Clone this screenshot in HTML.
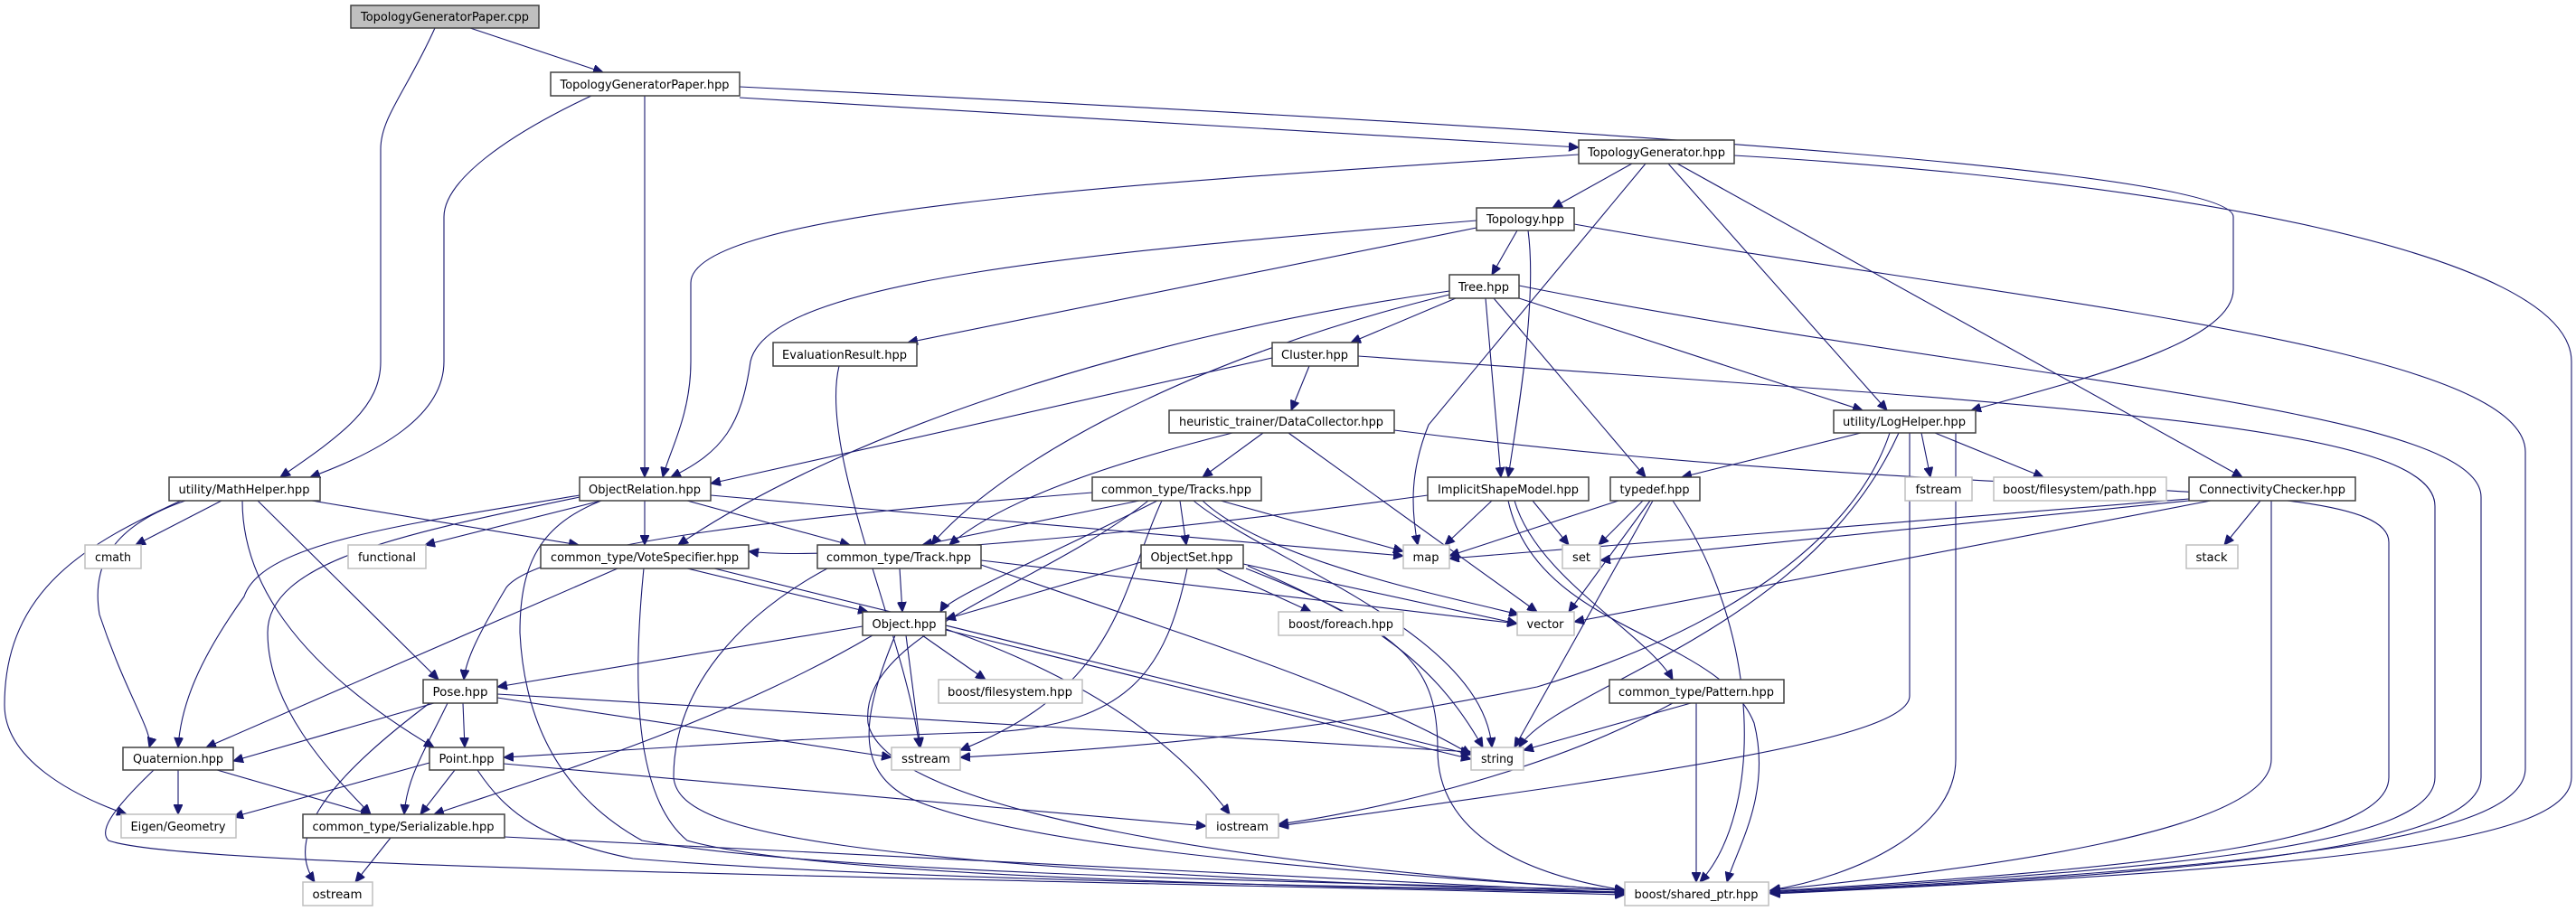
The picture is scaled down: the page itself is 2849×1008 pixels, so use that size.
<!DOCTYPE html>
<html><head><meta charset="utf-8"><style>
html,body{margin:0;padding:0;background:#fff;}
svg{display:block;}
text{font-family:"DejaVu Sans","Liberation Sans",sans-serif;font-size:13px;fill:#000;text-anchor:middle;}
.e{fill:none;stroke:#191970;stroke-width:1.1;marker-end:url(#a);}
.n{fill:#fff;stroke:#404040;stroke-width:1.5;}
.g{fill:#fff;stroke:#bfbfbf;stroke-width:1.5;}
</style></head><body>
<svg width="2849" height="1008" viewBox="0 0 2849 1008" xmlns="http://www.w3.org/2000/svg">
<defs><marker id="a" markerUnits="userSpaceOnUse" markerWidth="12" markerHeight="10" refX="11" refY="5" orient="auto"><path d="M0,0 L11,5 L0,10 z" fill="#191970" stroke="#191970"/></marker></defs>
<g>
<path class="e" d="M520 31 L667 80"/>
<path class="e" d="M481 31 C450 100 421 130 421 165 L421 400 C421 450 380 480 310 528"/>
<path class="e" d="M654 106 C560 150 491 200 491 240 L491 400 C491 460 420 500 343 528"/>
<path class="e" d="M713 106 L713 528"/>
<path class="e" d="M818 108 L1746 163"/>
<path class="e" d="M818 96 C1500 130 2470 180 2470 240 L2470 320 C2470 380 2300 420 2180 454"/>
<path class="e" d="M1805 181 L1717 230"/>
<path class="e" d="M1746 171 C1300 200 764 230 764 313 L764 400 C764 460 740 500 733 528"/>
<path class="e" d="M1820 181 L1580 470 C1560 520 1560 560 1568 603"/>
<path class="e" d="M1845 181 L2087 454"/>
<path class="e" d="M1855 181 L2480 528"/>
<path class="e" d="M1918 172 C2400 200 2844 280 2844 400 L2844 860 C2844 930 2600 960 1958 989"/>
<path class="e" d="M1678 255 L1650 304"/>
<path class="e" d="M1633 252 L1004 379"/>
<path class="e" d="M1633 244 C1200 280 850 310 830 400 C820 470 800 500 742 528"/>
<path class="e" d="M1690 255 C1700 330 1680 450 1668 528"/>
<path class="e" d="M1741 248 C2200 330 2793 380 2793 500 L2793 850 C2793 930 2500 960 1958 988"/>
<path class="e" d="M1610 330 L1494 379"/>
<path class="e" d="M1603 322 C1200 380 900 500 750 603"/>
<path class="e" d="M1603 326 C1300 400 1100 520 1030 603"/>
<path class="e" d="M1643 330 L1660 528"/>
<path class="e" d="M1652 330 L1820 528"/>
<path class="e" d="M1680 330 L2060 454"/>
<path class="e" d="M1680 316 C2200 420 2744 450 2744 550 L2744 860 C2744 930 2500 965 1958 988"/>
<path class="e" d="M928 405 C905 500 1000 700 1017 827"/>
<path class="e" d="M1448 405 L1428 454"/>
<path class="e" d="M1407 396 L786 535"/>
<path class="e" d="M1502 394 C2300 450 2693 470 2693 560 L2693 860 C2693 930 2450 960 1958 987"/>
<path class="e" d="M1397 479 L1330 528"/>
<path class="e" d="M1363 479 C1200 520 1100 560 1050 603"/>
<path class="e" d="M1425 479 L1700 677"/>
<path class="e" d="M1542 476 C2200 560 2642 520 2642 600 L2642 860 C2642 930 2400 960 1958 986"/>
<path class="e" d="M2058 479 L1860 528"/>
<path class="e" d="M2125 479 L2135 528"/>
<path class="e" d="M2140 479 L2260 528"/>
<path class="e" d="M2090 479 C2050 600 1900 700 1700 760 C1400 820 1200 830 1062 838"/>
<path class="e" d="M2100 479 C2000 700 1720 760 1680 827"/>
<path class="e" d="M2112 479 L2112 770 C2112 820 1800 860 1414 914"/>
<path class="e" d="M2163 479 L2163 840 C2163 920 2050 970 1958 985"/>
<path class="e" d="M245 554 L150 603"/>
<path class="e" d="M205 554 C130 580 100 620 110 680 C140 770 170 810 165 827"/>
<path class="e" d="M200 554 C100 600 5 650 5 780 C5 840 80 880 140 901"/>
<path class="e" d="M285 554 L485 752"/>
<path class="e" d="M268 554 C268 620 300 720 480 827"/>
<path class="e" d="M345 554 L640 603"/>
<path class="e" d="M665 554 L470 603"/>
<path class="e" d="M713 554 L713 603"/>
<path class="e" d="M760 554 L940 603"/>
<path class="e" d="M786 548 L1552 615"/>
<path class="e" d="M641 548 C450 580 290 600 270 660 C220 730 200 780 197 827"/>
<path class="e" d="M641 550 C450 590 296 620 296 700 C296 780 360 850 410 901"/>
<path class="e" d="M665 554 C600 580 575 620 575 700 C580 800 620 880 710 930 C900 965 1400 975 1797 985"/>
<path class="e" d="M1208 545 C900 570 600 600 560 650 C530 700 515 730 513 752"/>
<path class="e" d="M1260 554 L1020 603"/>
<path class="e" d="M1305 554 L1312 603"/>
<path class="e" d="M1280 554 C1150 620 1050 660 1040 677"/>
<path class="e" d="M1350 554 L1552 610"/>
<path class="e" d="M1330 554 C1400 620 1600 660 1680 680"/>
<path class="e" d="M1320 554 C1400 620 1640 700 1650 827"/>
<path class="e" d="M1285 554 C1240 650 1240 760 1062 830"/>
<path class="e" d="M1270 554 C1150 650 950 700 960 800 C980 900 1400 960 1797 985"/>
<path class="e" d="M1650 554 L1598 603"/>
<path class="e" d="M1695 554 L1735 603"/>
<path class="e" d="M1579 548 C1200 600 900 620 828 610"/>
<path class="e" d="M1675 554 C1700 640 1820 700 1850 752"/>
<path class="e" d="M1668 554 C1700 700 1900 700 1940 800 C1960 880 1920 940 1910 976"/>
<path class="e" d="M1790 554 L1603 615"/>
<path class="e" d="M1817 554 L1768 603"/>
<path class="e" d="M1825 554 L1735 677"/>
<path class="e" d="M1828 554 L1675 827"/>
<path class="e" d="M1850 554 C1950 700 1950 900 1880 976"/>
<path class="e" d="M2500 554 L2460 603"/>
<path class="e" d="M2421 552 L1603 618"/>
<path class="e" d="M2421 554 L1770 620"/>
<path class="e" d="M2445 554 L1741 688"/>
<path class="e" d="M2512 554 L2512 840 C2512 920 2200 960 1958 985"/>
<path class="e" d="M683 629 L228 827"/>
<path class="e" d="M760 629 L960 677"/>
<path class="e" d="M790 629 L1627 835"/>
<path class="e" d="M712 629 C700 750 700 880 760 930 C900 970 1400 980 1797 988"/>
<path class="e" d="M995 629 L998 677"/>
<path class="e" d="M1085 620 L1678 690"/>
<path class="e" d="M1085 625 C1300 700 1500 760 1627 835"/>
<path class="e" d="M915 629 C820 680 745 760 745 860 C750 920 900 960 1797 988"/>
<path class="e" d="M1262 622 L1046 685"/>
<path class="e" d="M1375 624 L1678 690"/>
<path class="e" d="M1345 629 L1450 677"/>
<path class="e" d="M1313 629 C1290 740 1250 800 1100 810 C900 815 700 830 557 838"/>
<path class="e" d="M1378 629 C1560 700 1590 740 1590 830 C1590 930 1700 970 1797 985"/>
<path class="e" d="M1380 626 C1500 680 1580 720 1640 827"/>
<path class="e" d="M954 693 L550 760"/>
<path class="e" d="M1020 703 L1090 752"/>
<path class="e" d="M1002 703 L1018 827"/>
<path class="e" d="M1046 697 L1627 840"/>
<path class="e" d="M1046 696 C1200 750 1300 820 1360 901"/>
<path class="e" d="M965 703 C800 800 600 860 480 901"/>
<path class="e" d="M990 703 C950 800 950 850 1000 880 C1100 930 1400 960 1797 985"/>
<path class="e" d="M480 778 L258 842"/>
<path class="e" d="M512 778 L514 827"/>
<path class="e" d="M495 778 C470 830 450 860 447 901"/>
<path class="e" d="M475 778 C380 850 310 920 348 976"/>
<path class="e" d="M550 772 L986 838"/>
<path class="e" d="M550 768 L1627 832"/>
<path class="e" d="M197 852 L197 901"/>
<path class="e" d="M240 852 L410 901"/>
<path class="e" d="M170 852 C120 900 110 920 120 930 C200 960 1000 970 1797 990"/>
<path class="e" d="M475 844 L258 904"/>
<path class="e" d="M503 852 L465 901"/>
<path class="e" d="M557 845 L1334 914"/>
<path class="e" d="M528 852 C560 900 600 930 700 950 C1000 975 1500 980 1797 987"/>
<path class="e" d="M432 927 L393 976"/>
<path class="e" d="M558 926 L1797 988"/>
<path class="e" d="M1870 778 L1685 830"/>
<path class="e" d="M1850 778 C1700 860 1500 900 1414 912"/>
<path class="e" d="M1876 778 L1876 976"/>
</g>
<g>
<rect x="388" y="6" width="208" height="25" fill="#bfbfbf" stroke="#404040" stroke-width="1.5"/><text x="492" y="23" textLength="186" lengthAdjust="spacingAndGlyphs">TopologyGeneratorPaper.cpp</text>
<rect class="n" x="609" y="80" width="209" height="26"/><text x="713" y="98" textLength="187" lengthAdjust="spacingAndGlyphs">TopologyGeneratorPaper.hpp</text>
<rect class="n" x="1746" y="155" width="172" height="26"/><text x="1832" y="173" textLength="152" lengthAdjust="spacingAndGlyphs">TopologyGenerator.hpp</text>
<rect class="n" x="1633" y="230" width="108" height="25"/><text x="1687" y="247" textLength="86" lengthAdjust="spacingAndGlyphs">Topology.hpp</text>
<rect class="n" x="1603" y="304" width="77" height="26"/><text x="1641" y="322" textLength="56" lengthAdjust="spacingAndGlyphs">Tree.hpp</text>
<rect class="n" x="855" y="379" width="159" height="26"/><text x="934" y="397" textLength="138" lengthAdjust="spacingAndGlyphs">EvaluationResult.hpp</text>
<rect class="n" x="1407" y="379" width="95" height="26"/><text x="1454" y="397" textLength="74" lengthAdjust="spacingAndGlyphs">Cluster.hpp</text>
<rect class="n" x="1293" y="454" width="249" height="25"/><text x="1417" y="471" textLength="226" lengthAdjust="spacingAndGlyphs">heuristic_trainer/DataCollector.hpp</text>
<rect class="n" x="2028" y="454" width="157" height="25"/><text x="2106" y="471" textLength="136" lengthAdjust="spacingAndGlyphs">utility/LogHelper.hpp</text>
<rect class="n" x="187" y="528" width="167" height="26"/><text x="270" y="546" textLength="145" lengthAdjust="spacingAndGlyphs">utility/MathHelper.hpp</text>
<rect class="n" x="641" y="528" width="145" height="26"/><text x="713" y="546" textLength="124" lengthAdjust="spacingAndGlyphs">ObjectRelation.hpp</text>
<rect class="n" x="1208" y="528" width="187" height="26"/><text x="1301" y="546" textLength="166" lengthAdjust="spacingAndGlyphs">common_type/Tracks.hpp</text>
<rect class="n" x="1579" y="528" width="178" height="26"/><text x="1668" y="546" textLength="156" lengthAdjust="spacingAndGlyphs">ImplicitShapeModel.hpp</text>
<rect class="n" x="1781" y="528" width="99" height="26"/><text x="1830" y="546" textLength="77" lengthAdjust="spacingAndGlyphs">typedef.hpp</text>
<rect class="g" x="2107" y="528" width="74" height="26"/><text x="2144" y="546" textLength="51" lengthAdjust="spacingAndGlyphs">fstream</text>
<rect class="g" x="2205" y="528" width="191" height="26"/><text x="2300" y="546" textLength="170" lengthAdjust="spacingAndGlyphs">boost/filesystem/path.hpp</text>
<rect class="n" x="2421" y="528" width="184" height="26"/><text x="2513" y="546" textLength="162" lengthAdjust="spacingAndGlyphs">ConnectivityChecker.hpp</text>
<rect class="g" x="94" y="603" width="62" height="26"/><text x="125" y="621" textLength="40" lengthAdjust="spacingAndGlyphs">cmath</text>
<rect class="g" x="385" y="603" width="86" height="26"/><text x="428" y="621" textLength="64" lengthAdjust="spacingAndGlyphs">functional</text>
<rect class="n" x="598" y="603" width="230" height="26"/><text x="713" y="621" textLength="208" lengthAdjust="spacingAndGlyphs">common_type/VoteSpecifier.hpp</text>
<rect class="n" x="904" y="603" width="181" height="26"/><text x="994" y="621" textLength="160" lengthAdjust="spacingAndGlyphs">common_type/Track.hpp</text>
<rect class="n" x="1262" y="603" width="113" height="26"/><text x="1318" y="621" textLength="91" lengthAdjust="spacingAndGlyphs">ObjectSet.hpp</text>
<rect class="g" x="1552" y="603" width="51" height="26"/><text x="1577" y="621" textLength="29" lengthAdjust="spacingAndGlyphs">map</text>
<rect class="g" x="1728" y="603" width="42" height="26"/><text x="1749" y="621" textLength="20" lengthAdjust="spacingAndGlyphs">set</text>
<rect class="g" x="2418" y="603" width="57" height="26"/><text x="2446" y="621" textLength="35" lengthAdjust="spacingAndGlyphs">stack</text>
<rect class="n" x="954" y="677" width="92" height="26"/><text x="1000" y="695" textLength="71" lengthAdjust="spacingAndGlyphs">Object.hpp</text>
<rect class="g" x="1414" y="677" width="138" height="26"/><text x="1483" y="695" textLength="116" lengthAdjust="spacingAndGlyphs">boost/foreach.hpp</text>
<rect class="g" x="1678" y="677" width="63" height="26"/><text x="1709" y="695" textLength="41" lengthAdjust="spacingAndGlyphs">vector</text>
<rect class="n" x="468" y="752" width="82" height="26"/><text x="509" y="770" textLength="61" lengthAdjust="spacingAndGlyphs">Pose.hpp</text>
<rect class="g" x="1038" y="752" width="159" height="26"/><text x="1117" y="770" textLength="138" lengthAdjust="spacingAndGlyphs">boost/filesystem.hpp</text>
<rect class="n" x="1780" y="752" width="193" height="26"/><text x="1876" y="770" textLength="172" lengthAdjust="spacingAndGlyphs">common_type/Pattern.hpp</text>
<rect class="n" x="136" y="827" width="122" height="25"/><text x="197" y="844" textLength="100" lengthAdjust="spacingAndGlyphs">Quaternion.hpp</text>
<rect class="n" x="475" y="827" width="82" height="25"/><text x="516" y="844" textLength="61" lengthAdjust="spacingAndGlyphs">Point.hpp</text>
<rect class="g" x="986" y="827" width="76" height="25"/><text x="1024" y="844" textLength="54" lengthAdjust="spacingAndGlyphs">sstream</text>
<rect class="g" x="1627" y="827" width="58" height="25"/><text x="1656" y="844" textLength="36" lengthAdjust="spacingAndGlyphs">string</text>
<rect class="g" x="134" y="901" width="127" height="26"/><text x="197" y="919" textLength="105" lengthAdjust="spacingAndGlyphs">Eigen/Geometry</text>
<rect class="n" x="335" y="901" width="223" height="26"/><text x="446" y="919" textLength="201" lengthAdjust="spacingAndGlyphs">common_type/Serializable.hpp</text>
<rect class="g" x="1334" y="901" width="80" height="26"/><text x="1374" y="919" textLength="58" lengthAdjust="spacingAndGlyphs">iostream</text>
<rect class="g" x="335" y="976" width="77" height="26"/><text x="373" y="994" textLength="55" lengthAdjust="spacingAndGlyphs">ostream</text>
<rect class="g" x="1797" y="976" width="159" height="26"/><text x="1876" y="994" textLength="137" lengthAdjust="spacingAndGlyphs">boost/shared_ptr.hpp</text>
</g>
</svg>
</body></html>
